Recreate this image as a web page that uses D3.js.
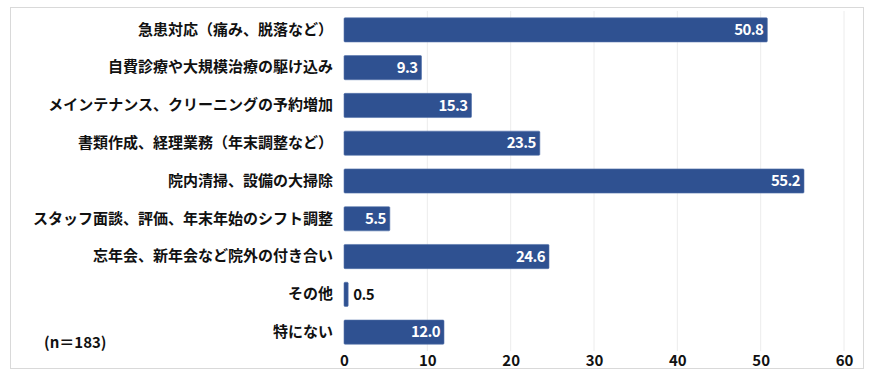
<!DOCTYPE html>
<html>
<head>
<meta charset="utf-8">
<script src="https://cdn.jsdelivr.net/npm/d3@7"></script>
<style>
  body { margin: 0; background: #fff; }
  text { font-family: "Noto Sans CJK JP", "Noto Sans", sans-serif; font-weight: 700; }
</style>
</head>
<body>
<div id="chart"></div>
<script>
// Chart size
const WIDTH = 875;
const HEIGHT = 376;

// Data
const categories = [
  "急患対応（痛み、脱落など）",
  "自費診療や大規模治療の駆け込み",
  "メインテナンス、クリーニングの予約増加",
  "書類作成、経理業務（年末調整など）",
  "院内清掃、設備の大掃除",
  "スタッフ面談、評価、年末年始のシフト調整",
  "忘年会、新年会など院外の付き合い",
  "その他",
  "特にない"
];
const values = [50.8, 9.3, 15.3, 23.5, 55.2, 5.5, 24.6, 0.5, 12.0];
const ticks = [0, 10, 20, 30, 40, 50, 60];

const margin = { left: 344, right: 31, top: 11, bottom: 25 };

var svg = d3
  .select("#chart")
  .append("svg")
  .attr("width", WIDTH)
  .attr("height", HEIGHT);

// Outer frame
svg
  .append("rect")
  .attr("x", 10.5)
  .attr("y", 7.5)
  .attr("width", 853)
  .attr("height", 361)
  .attr("fill", "#fff")
  .attr("stroke", "#d9d9d9");

const xScale = d3
  .scaleLinear()
  .domain([0, 60])
  .range([margin.left, WIDTH - margin.right]);

const yScale = d3
  .scaleBand()
  .domain(categories)
  .range([margin.top, HEIGHT - margin.bottom])
  .paddingInner(0.36)
  .paddingOuter(0.18);

// Grid lines
svg
  .append("g")
  .selectAll("line")
  .data(ticks.slice(1))
  .enter()
  .append("line")
  .attr("x1", (d) => xScale(d))
  .attr("x2", (d) => xScale(d))
  .attr("y1", margin.top)
  .attr("y2", HEIGHT - margin.bottom)
  .attr("stroke", "#ececec");

// X axis (labels only)
const xAxis = d3
  .axisBottom(xScale)
  .tickValues(ticks)
  .tickSize(0)
  .tickPadding(0);

svg
  .append("g")
  .attr("transform", "translate(0," + (HEIGHT - margin.bottom + 2) + ")")
  .call(xAxis)
  .call((g) => g.select(".domain").remove())
  .selectAll("text")
  .attr("dy", "0.85em")
  .attr("fill", "#111")
  .style("font-size", "15px");

// Y axis (labels only)
const yAxis = d3.axisLeft(yScale).tickSize(0).tickPadding(11);

svg
  .append("g")
  .attr("transform", "translate(" + margin.left + ",0)")
  .call(yAxis)
  .call((g) => g.select(".domain").remove())
  .selectAll("text")
  .attr("fill", "#111")
  .style("font-size", "15px");

// Bars
svg
  .append("g")
  .selectAll("rect")
  .data(values)
  .enter()
  .append("rect")
  .attr("x", xScale(0))
  .attr("y", (d, i) => yScale(categories[i]))
  .attr("width", (d) => xScale(d) - xScale(0))
  .attr("height", yScale.bandwidth())
  .attr("fill", "#2f5191")
  .attr("stroke", "#5573ab")
  .attr("stroke-width", 0.6)
  .attr("rx", 1);

// Value labels
svg
  .append("g")
  .selectAll("text")
  .data(values)
  .enter()
  .append("text")
  .attr("x", (d) => (d < 3 ? xScale(d) + 5 : xScale(d) - 4))
  .attr("y", (d, i) => yScale(categories[i]) + yScale.bandwidth() / 2)
  .attr("dy", "0.35em")
  .attr("text-anchor", (d) => (d < 3 ? "start" : "end"))
  .attr("fill", (d) => (d < 3 ? "#111" : "#fff"))
  .style("font-size", "15px")
  .style("letter-spacing", "-0.6px")
  .text((d) => d.toFixed(1));

// Sample size note
svg
  .append("text")
  .attr("x", 44)
  .attr("y", 348)
  .attr("fill", "#111")
  .style("font-size", "15px")
  .text("(n＝183)");
</script>
</body>
</html>
